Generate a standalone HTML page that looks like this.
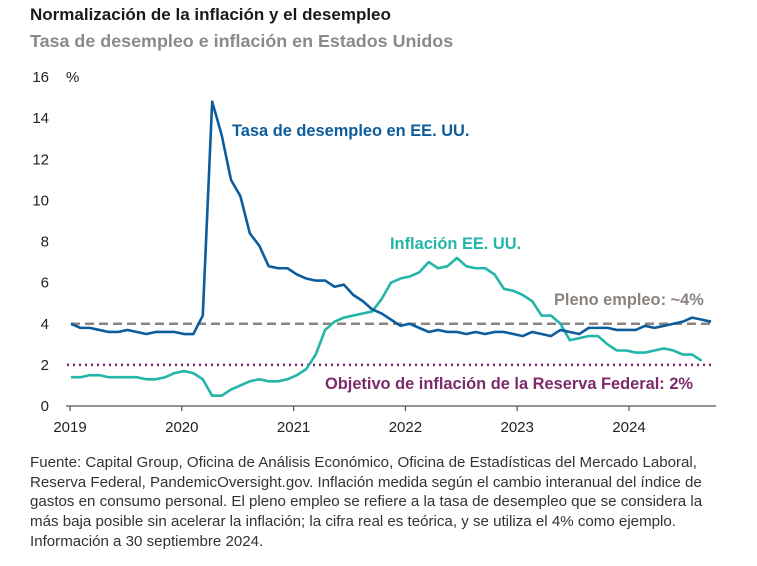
<!DOCTYPE html>
<html><head><meta charset="utf-8"><style>
body{margin:0;background:#fff;width:757px;height:566px;overflow:hidden;font-family:"Liberation Sans",sans-serif;}
.t{position:absolute;left:30px;top:5px;font-size:17px;font-weight:bold;color:#1a1a1a;}
.s{position:absolute;left:30px;top:31px;font-size:17.9px;font-weight:bold;color:#8a8a8a;}
.f{position:absolute;left:30px;top:453px;font-size:15.1px;line-height:19.7px;color:#333;white-space:nowrap;}
svg{position:absolute;left:0;top:0;}
</style></head><body>
<div class="t">Normalización de la inflación y el desempleo</div>
<div class="s">Tasa de desempleo e inflación en Estados Unidos</div>
<svg id="c" width="757" height="450"></svg>
<div class="f">Fuente: Capital Group, Oficina de Análisis Económico, Oficina de Estadísticas del Mercado Laboral,<br>Reserva Federal, PandemicOversight.gov. Inflación medida según el cambio interanual del índice de<br>gastos en consumo personal. El pleno empleo se refiere a la tasa de desempleo que se considera la<br>más baja posible sin acelerar la inflación; la cifra real es teórica, y se utiliza el 4% como ejemplo.<br>Información a 30 septiembre 2024.</div>
<script>
const yTicks=[0,2,4,6,8,10,12,14,16];
const xYears=["2019","2020","2021","2022","2023","2024"];
const unemployment=[4.0,3.8,3.8,3.7,3.6,3.6,3.7,3.6,3.5,3.6,3.6,3.6,
3.5,3.5,4.4,14.8,13.2,11.0,10.2,8.4,7.8,6.8,6.7,6.7,
6.4,6.2,6.1,6.1,5.8,5.9,5.4,5.1,4.7,4.5,4.2,3.9,
4.0,3.8,3.6,3.7,3.6,3.6,3.5,3.6,3.5,3.6,3.6,3.5,
3.4,3.6,3.5,3.4,3.7,3.6,3.5,3.8,3.8,3.8,3.7,3.7,
3.7,3.9,3.8,3.9,4.0,4.1,4.3,4.2,4.1];
const inflation=[1.4,1.4,1.5,1.5,1.4,1.4,1.4,1.4,1.3,1.3,1.4,1.6,
1.7,1.6,1.3,0.5,0.5,0.8,1.0,1.2,1.3,1.2,1.2,1.3,
1.5,1.8,2.5,3.7,4.1,4.3,4.4,4.5,4.6,5.2,6.0,6.2,
6.3,6.5,7.0,6.7,6.8,7.2,6.8,6.7,6.7,6.4,5.7,5.6,
5.4,5.1,4.4,4.4,4.0,3.2,3.3,3.4,3.4,3.0,2.7,2.7,
2.6,2.6,2.7,2.8,2.7,2.5,2.5,2.2];
const fullEmployment=4, fedTarget=2;
const svg=document.getElementById('c'),NS="http://www.w3.org/2000/svg";
const y=v=>406-v*20.56;
const x=i=>71+i*(711-71)/68;
const xy=yr=>70+yr*111.8;
function mk(t,a,p){const e=document.createElementNS(NS,t);for(const k in a)e.setAttribute(k,a[k]);(p||svg).appendChild(e);return e;}
yTicks.forEach(v=>{const t=mk('text',{x:49,y:y(v)+5,'text-anchor':'end','font-size':15,fill:'#222'});t.textContent=v;

});
const pc=mk('text',{x:66,y:y(16)+5,'font-size':15,fill:'#222'});pc.textContent='%';


const ax=mk('line',{x1:66,x2:716,y1:406,y2:406,stroke:'#555','stroke-width':1.2});


xYears.forEach((l,i)=>{const tk=mk('line',{x1:xy(i),x2:xy(i),y1:406,y2:411,stroke:'#555','stroke-width':1.2});


const t=mk('text',{x:xy(i),y:432,'text-anchor':'middle','font-size':15,fill:'#222'});t.textContent=l;

});
const fe=mk('line',{x1:71,x2:711,y1:y(fullEmployment),y2:y(fullEmployment),stroke:'#8c8480','stroke-width':2.5,'stroke-dasharray':'9,5'});


const ft=mk('line',{x1:67,x2:711,y1:y(fedTarget),y2:y(fedTarget),stroke:'#7b2a6a','stroke-width':2.5,'stroke-dasharray':'2,4'});


function line(d,c,n){const p=mk('polyline',{points:d.map((v,i)=>x(i)+','+y(v)).join(' '),fill:'none',stroke:c,'stroke-width':2.6,'stroke-linejoin':'round'});

}
line(inflation,'#23b5a8','inflation-line');
line(unemployment,'#0d5c9b','unemployment-line');
function lab(tx,xx,yy,c,n){const t=mk('text',{x:xx,y:yy,'font-size':16.4,'font-weight':'bold',fill:c});t.textContent=tx;

}
lab('Tasa de desempleo en EE. UU.',232,136,'#0d5c9b','unemployment-label');
lab('Inflación EE. UU.',390,249,'#23b5a8','inflation-label');
lab('Pleno empleo: ~4%',554,305,'#8a8480','full-employment-label');
lab('Objetivo de inflación de la Reserva Federal: 2%',325,389,'#7b2a6a','fed-target-label');
</script>
</body></html>
